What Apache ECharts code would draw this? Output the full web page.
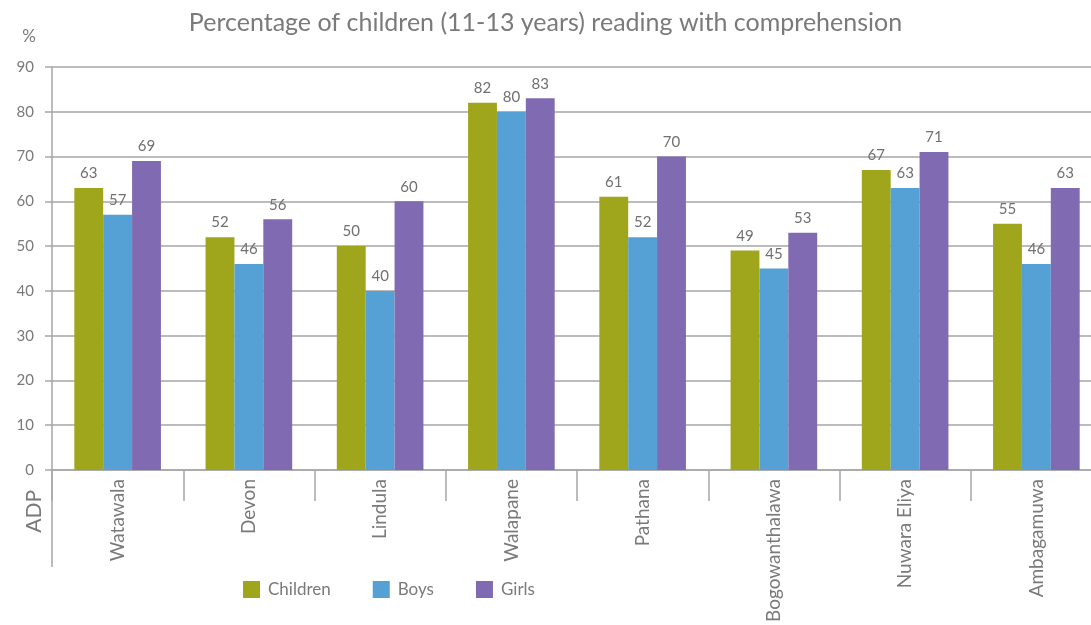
<!DOCTYPE html>
<html>
<head>
<meta charset="utf-8">
<script src="https://cdn.jsdelivr.net/npm/echarts@6/dist/echarts.min.js"></script>
<style>
  html, body { margin: 0; padding: 0; background: #fff; }
  #chart { width: 1091px; height: 625px; }
</style>
</head>
<body>
<div id="chart"></div>
<script>
// ADP divisions and reading-with-comprehension percentages (11-13 years)
const categories = ['Watawala', 'Devon', 'Lindula', 'Walapane', 'Pathana', 'Bogowanthalawa', 'Nuwara Eliya', 'Ambagamuwa'];
const children = [63, 52, 50, 82, 61, 49, 67, 55];
const boys = [57, 46, 40, 80, 52, 45, 63, 46];
const girls = [69, 56, 60, 83, 70, 53, 71, 63];
const yTicks = [0, 10, 20, 30, 40, 50, 60, 70, 80, 90];

const FONT = 'Lato, "Open Sans", sans-serif';
const TEXT = '#7a7a7a';
const LINE = '#a6a6a6';

const chart = echarts.init(document.getElementById('chart'));

function barSeries(name, data, color) {
  return {
    name: name,
    type: 'bar',
    data: data,
    barGap: '0%',
    barCategoryGap: '34%',
    itemStyle: { color: color },
    label: {
      show: true,
      position: 'top',
      distance: 7,
      color: '#707070',
      fontFamily: FONT,
      fontSize: 15
    }
  };
}

chart.setOption({
  animation: false,
  textStyle: { fontFamily: FONT },
  title: {
    text: 'Percentage of children (11-13 years) reading with comprehension',
    left: 'center',
    top: 5,
    textStyle: { color: TEXT, fontSize: 25, fontWeight: 'normal', fontFamily: FONT }
  },
  legend: {
    left: 238,
    top: 576,
    itemWidth: 17,
    itemHeight: 17,
    itemGap: 42,
    icon: 'rect',
    textStyle: { color: TEXT, fontSize: 17, fontFamily: FONT, padding: [0, 0, 0, 3] },
    data: ['Children', 'Boys', 'Girls']
  },
  grid: { left: 52, top: 67, width: 1050, height: 403, outerBoundsMode: 'none', containLabel: false },
  xAxis: {
    type: 'category',
    data: categories,
    axisLine: { show: true, lineStyle: { color: LINE, width: 1.5 } },
    axisTick: { show: true, length: 31, lineStyle: { color: LINE, width: 1.5 } },
    axisLabel: { rotate: 90, margin: 9, color: TEXT, fontSize: 19, fontFamily: FONT, interval: 0 }
  },
  yAxis: {
    type: 'value',
    min: yTicks[0],
    max: yTicks[yTicks.length - 1],
    interval: 10,
    name: '%',
    nameLocation: 'end',
    nameGap: 22,
    nameTextStyle: { color: TEXT, fontSize: 17, fontFamily: FONT, align: 'right', padding: [0, 16, 0, 0] },
    axisLine: { show: true, lineStyle: { color: LINE, width: 1.5 } },
    axisTick: { show: true, length: 7, lineStyle: { color: LINE, width: 1.5 } },
    axisLabel: { color: TEXT, fontSize: 15, fontFamily: FONT, margin: 18 },
    splitLine: { lineStyle: { color: LINE, width: 1.5 } }
  },
  series: [
    barSeries('Children', children, '#9fa61b'),
    barSeries('Boys', boys, '#55a0d4'),
    barSeries('Girls', girls, '#806bb2')
  ]
});

// Extend the left axis line down past the category labels and add the axis title
const origin = chart.convertToPixel({ gridIndex: 0 }, [0, 0]);
const axisX = 52;
chart.setOption({
  graphic: [
    {
      type: 'line',
      shape: { x1: axisX, y1: origin[1], x2: axisX, y2: origin[1] + 97 },
      style: { stroke: LINE, lineWidth: 1.5 }
    },
    {
      type: 'text',
      x: 34,
      y: origin[1] + 20,
      rotation: Math.PI / 2,
      style: {
        text: 'ADP',
        fill: TEXT,
        fontSize: 21,
        fontFamily: FONT,
        align: 'right',
        verticalAlign: 'middle'
      }
    }
  ]
});
</script>
</body>
</html>
